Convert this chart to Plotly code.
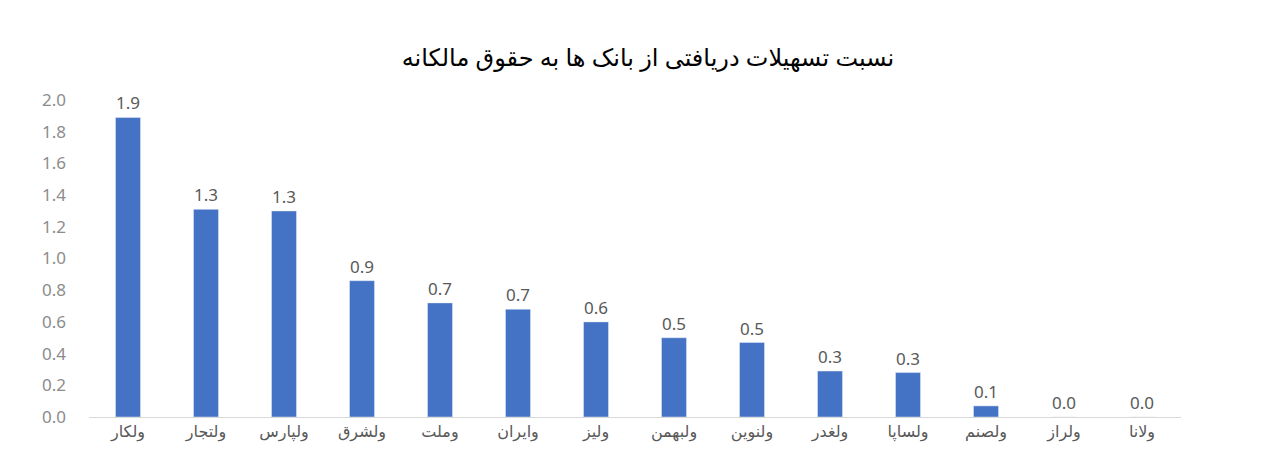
import plotly.graph_objects as go

banks = ["ولکار", "ولتجار", "ولپارس", "ولشرق", "وملت", "وایران", "ولیز", "ولبهمن",
         "ولنوین", "ولغدر", "ولساپا", "ولصنم", "ولراز", "ولانا"]
ratios = [1.89, 1.31, 1.30, 0.86, 0.72, 0.68, 0.60, 0.50, 0.47, 0.29, 0.28, 0.07, 0.0, 0.0]

fig = go.Figure(go.Bar(
    x=banks, y=ratios,
    marker_color="#4472C4",
    texttemplate="%{y:.1f}", textposition="outside",
    textfont=dict(size=17, color="#595959"),
    cliponaxis=False,
))

fig.update_layout(
    width=1280, height=474,
    paper_bgcolor="white", plot_bgcolor="white",
    font=dict(family="Noto Sans, DejaVu Sans", color="#595959"),
    title=dict(text="نسبت تسهیلات دریافتی از بانک ها به حقوق مالکانه",
               x=0.5, y=0.895, xanchor="center", yanchor="middle",
               font=dict(size=24, color="#000000")),
    margin=dict(l=81, r=107, t=92, b=65),
    bargap=0.68,
    showlegend=False,
)
fig.update_xaxes(showline=True, linecolor="#d9d9d9", linewidth=1,
                 tickfont=dict(size=16, color="#595959"), ticks="")
fig.update_yaxes(range=[0, 2.0], dtick=0.2, tickformat=".1f", showgrid=False,
                 zeroline=False, ticklabelstandoff=22,
                 tickfont=dict(size=17, color="#8c8c8c"))

fig.write_html("out.html")
